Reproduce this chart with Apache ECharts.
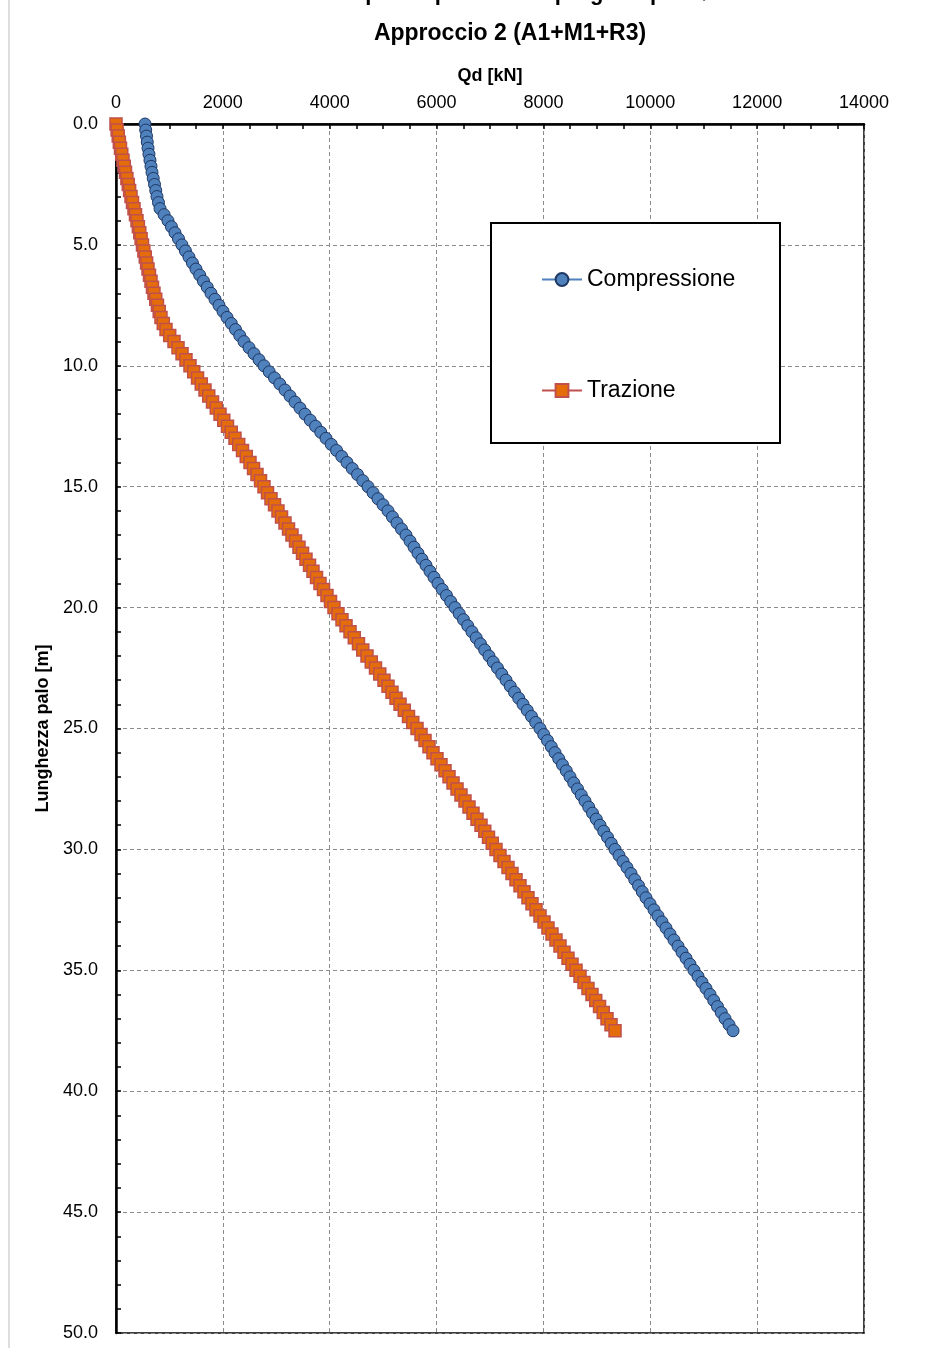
<!DOCTYPE html>
<html>
<head>
<meta charset="utf-8">
<script src="https://cdn.jsdelivr.net/npm/echarts@6/dist/echarts.min.js"></script>
<style>html,body{margin:0;padding:0;background:#fff}#c{width:926px;height:1348px}</style>
</head>
<body>
<div id="c"></div>
<script>
const titleTop = 'Curve di capacità portante di progetto palo Ø 1000';
const titleMain = 'Approccio 2 (A1+M1+R3)';
const xName = 'Qd [kN]';
const yName = 'Lunghezza palo [m]';
const seriesNames = ['Compressione', 'Trazione'];

const depth = [0,0.25,0.5,0.75,1,1.25,1.5,1.75,2,2.25,2.5,2.75,3,3.25,3.5,3.75,4,4.25,4.5,4.75,5,5.25,5.5,5.75,6,6.25,6.5,6.75,7,7.25,7.5,7.75,8,8.25,8.5,8.75,9,9.25,9.5,9.75,10,10.25,10.5,10.75,11,11.25,11.5,11.75,12,12.25,12.5,12.75,13,13.25,13.5,13.75,14,14.25,14.5,14.75,15,15.25,15.5,15.75,16,16.25,16.5,16.75,17,17.25,17.5,17.75,18,18.25,18.5,18.75,19,19.25,19.5,19.75,20,20.25,20.5,20.75,21,21.25,21.5,21.75,22,22.25,22.5,22.75,23,23.25,23.5,23.75,24,24.25,24.5,24.75,25,25.25,25.5,25.75,26,26.25,26.5,26.75,27,27.25,27.5,27.75,28,28.25,28.5,28.75,29,29.25,29.5,29.75,30,30.25,30.5,30.75,31,31.25,31.5,31.75,32,32.25,32.5,32.75,33,33.25,33.5,33.75,34,34.25,34.5,34.75,35,35.25,35.5,35.75,36,36.25,36.5,36.75,37,37.25,37.5];

const compressione = [543,556,571,585,599,617,636,655,674,697,721,744,767,795,824,900,973,1038,1104,1170,1235,1300,1366,1431,1497,1567,1637,1708,1778,1853,1928,2003,2078,2158,2237,2317,2396,2490,2583,2677,2770,2868,2967,3065,3163,3257,3350,3444,3538,3636,3735,3833,3931,4029,4128,4226,4324,4422,4521,4619,4717,4811,4904,4998,5091,5175,5259,5344,5428,5503,5578,5652,5727,5802,5877,5952,6027,6106,6186,6265,6345,6424,6504,6583,6663,6742,6822,6901,6981,7061,7140,7220,7300,7379,7459,7538,7618,7697,7777,7856,7936,8006,8076,8147,8217,8287,8357,8428,8498,8568,8638,8708,8778,8848,8919,8989,9059,9129,9200,9270,9340,9415,9490,9564,9639,9709,9780,9850,9920,9995,10070,10144,10219,10294,10369,10444,10519,10594,10669,10743,10818,10893,10968,11043,11118,11188,11258,11329,11399,11474,11549];

const trazione = [0,21,42,63,84,108,131,155,178,204,230,255,281,309,337,365,393,419,445,470,496,522,548,573,599,627,655,683,711,744,776,809,842,885,936,1005,1086,1161,1236,1310,1385,1455,1526,1596,1666,1736,1807,1877,1947,2017,2087,2157,2227,2297,2368,2438,2508,2574,2639,2705,2770,2836,2901,2967,3032,3098,3163,3229,3294,3360,3425,3491,3556,3622,3687,3753,3818,3884,3949,4015,4080,4155,4230,4305,4380,4460,4539,4619,4698,4778,4857,4937,5016,5091,5166,5241,5316,5396,5475,5555,5634,5709,5784,5858,5933,6008,6083,6158,6233,6308,6383,6457,6532,6607,6682,6757,6832,6902,6972,7042,7112,7187,7262,7337,7412,7487,7561,7636,7711,7786,7861,7936,8011,8085,8160,8235,8310,8385,8460,8535,8610,8685,8759,8834,8909,8979,9050,9120,9190,9265,9340];

function pairs(vals) {
  const n = Math.min(vals.length, depth.length);
  const out = [];
  for (let i = 0; i < n; i++) out.push([vals[i], depth[i]]);
  return out;
}

const FONT = 'Liberation Sans, Arial, sans-serif';
const chart = echarts.init(document.getElementById('c'), null, {renderer: 'canvas'});
const gridLine = {show: true, lineStyle: {color: '#8c8c8c', type: [4, 3], width: 1}};

chart.setOption({
  animation: false,
  backgroundColor: '#ffffff',
  graphic: [
    {type: 'rect', shape: {x: 8, y: 0, width: 2, height: 1348}, style: {fill: '#dedede'}, z: 1, silent: true},
    {type: 'text', style: {x: 510, y: -17, text: titleTop, textAlign: 'center', textVerticalAlign: 'top', fill: '#000', font: 'bold 22px ' + FONT}, z: 5},
    {type: 'text', style: {x: 510, y: 34, text: titleMain, textAlign: 'center', textVerticalAlign: 'middle', fill: '#000', font: 'bold 23px ' + FONT}, z: 5},
    {type: 'rect', shape: {x: 491, y: 223, width: 289, height: 220}, style: {fill: '#fff', stroke: '#000', lineWidth: 2}, z: 50}
  ],
  grid: {left: 116, top: 124, width: 748, height: 1209, show: true, borderColor: '#000', borderWidth: 1.5, backgroundColor: 'transparent', containLabel: false},
  legend: {
    orient: 'vertical', left: 536, top: 263, itemGap: 88, itemWidth: 40, itemHeight: 16, z: 60,
    textStyle: {fontFamily: FONT, fontSize: 23, color: '#000'},
    data: seriesNames
  },
  xAxis: {
    type: 'value', position: 'top', min: 0, max: 14000, interval: 2000,
    name: xName, nameLocation: 'middle', nameGap: 39,
    nameTextStyle: {fontFamily: FONT, fontWeight: 'bold', fontSize: 18, color: '#000'},
    axisLine: {show: true, lineStyle: {color: '#000', width: 2.5}},
    axisTick: {show: true, inside: true, length: 5, lineStyle: {color: '#000', width: 1.5}},
    minorTick: {show: true, splitNumber: 4, length: 5, lineStyle: {color: '#000', width: 1.5}},
    axisLabel: {fontFamily: FONT, fontSize: 18, color: '#000', margin: 12, formatter: v => String(v)},
    splitLine: gridLine
  },
  yAxis: {
    type: 'value', inverse: true, min: 0, max: 50, interval: 5,
    name: yName, nameLocation: 'middle', nameGap: 56,
    nameTextStyle: {fontFamily: FONT, fontWeight: 'bold', fontSize: 18, color: '#000'},
    axisLine: {show: true, lineStyle: {color: '#000', width: 2.5}},
    axisTick: {show: true, inside: true, length: 5, lineStyle: {color: '#000', width: 1.5}},
    minorTick: {show: true, splitNumber: 5, length: 5, lineStyle: {color: '#000', width: 1.5}},
    axisLabel: {fontFamily: FONT, fontSize: 18, color: '#000', margin: 18, formatter: v => v.toFixed(1)},
    splitLine: gridLine
  },
  series: [
    {
      name: seriesNames[0], type: 'line', data: pairs(compressione),
      symbol: 'circle', symbolSize: 12,
      lineStyle: {color: '#4F81BD', width: 2},
      itemStyle: {color: '#4F81BD', borderColor: '#1F3864', borderWidth: 1},
      z: 10
    },
    {
      name: seriesNames[1], type: 'line', data: pairs(trazione),
      symbol: 'rect', symbolSize: 12,
      lineStyle: {color: '#C0504D', width: 3.5},
      itemStyle: {color: '#E46C0A', borderColor: '#C0504D', borderWidth: 1.5},
      z: 10
    }
  ]
});
</script>
</body>
</html>
